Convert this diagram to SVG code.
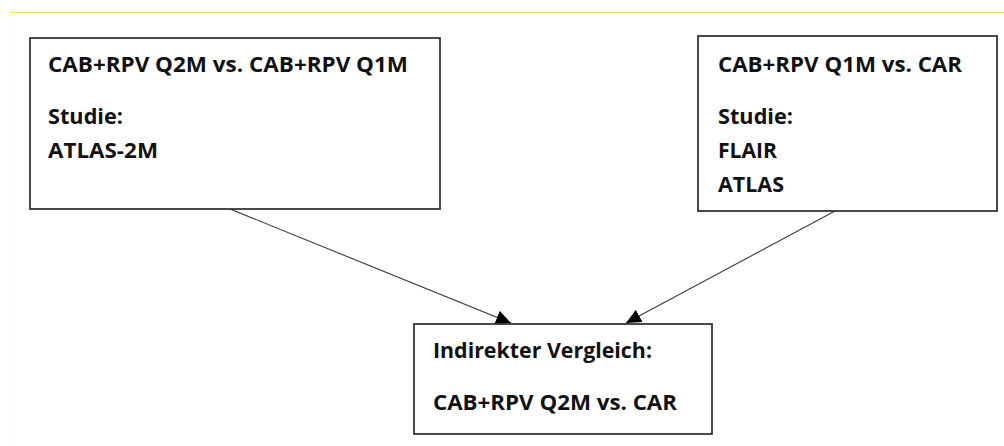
<svg xmlns="http://www.w3.org/2000/svg" width="1004" height="446" viewBox="0 0 1004 446">
  <style>
    .box { fill: #ffffff; stroke: #2b2b2b; stroke-width: 1.7; }
    .lbl { font-family: "Open Sans", "Liberation Sans", sans-serif; font-weight: bold; font-size: 21px; fill: #111111; }
    .edge { stroke: #3a3a3a; stroke-width: 1.1; fill: none; }
  </style>
  <defs>
    <marker id="arrow" markerUnits="userSpaceOnUse" markerWidth="16" markerHeight="14" viewBox="0 0 16 14" refX="15" refY="7" orient="auto">
      <path d="M0,0 L15,7 L0,14 Z" fill="#000000"/>
    </marker>
  </defs>

  <rect width="1004" height="446" fill="#ffffff"/>
  <!-- page frame -->
  <line x1="9" y1="12.5" x2="1004" y2="12.5" stroke="#f4f400" stroke-width="1"/>
  <line x1="9.5" y1="12" x2="9.5" y2="446" stroke="#fffbd6" stroke-width="1"/>

  <g id="connectors">
    <line class="edge" x1="230" y1="209" x2="511" y2="323" marker-end="url(#arrow)"/>
    <line class="edge" x1="835" y1="211" x2="626" y2="323" marker-end="url(#arrow)"/>
  </g>

  <g id="node-q2m-q1m">
    <rect class="box" x="30" y="38" width="410" height="171"/>
    <text class="lbl" x="48" y="72" textLength="360" lengthAdjust="spacingAndGlyphs">CAB+RPV Q2M vs. CAB+RPV Q1M</text>
    <text class="lbl" x="48" y="124" textLength="75" lengthAdjust="spacingAndGlyphs">Studie:</text>
    <text class="lbl" x="48" y="158" textLength="110" lengthAdjust="spacingAndGlyphs">ATLAS-2M</text>
  </g>

  <g id="node-q1m-car">
    <rect class="box" x="698" y="36" width="299" height="175"/>
    <text class="lbl" x="718" y="72" textLength="244" lengthAdjust="spacingAndGlyphs">CAB+RPV Q1M vs. CAR</text>
    <text class="lbl" x="718" y="124" textLength="75" lengthAdjust="spacingAndGlyphs">Studie:</text>
    <text class="lbl" x="718" y="158" textLength="59" lengthAdjust="spacingAndGlyphs">FLAIR</text>
    <text class="lbl" x="718" y="192" textLength="66" lengthAdjust="spacingAndGlyphs">ATLAS</text>
  </g>

  <g id="node-indirect">
    <rect class="box" x="414" y="324" width="298" height="110"/>
    <text class="lbl" x="433" y="358" textLength="219" lengthAdjust="spacingAndGlyphs">Indirekter Vergleich:</text>
    <text class="lbl" x="433" y="410" textLength="244" lengthAdjust="spacingAndGlyphs">CAB+RPV Q2M vs. CAR</text>
  </g>
</svg>
